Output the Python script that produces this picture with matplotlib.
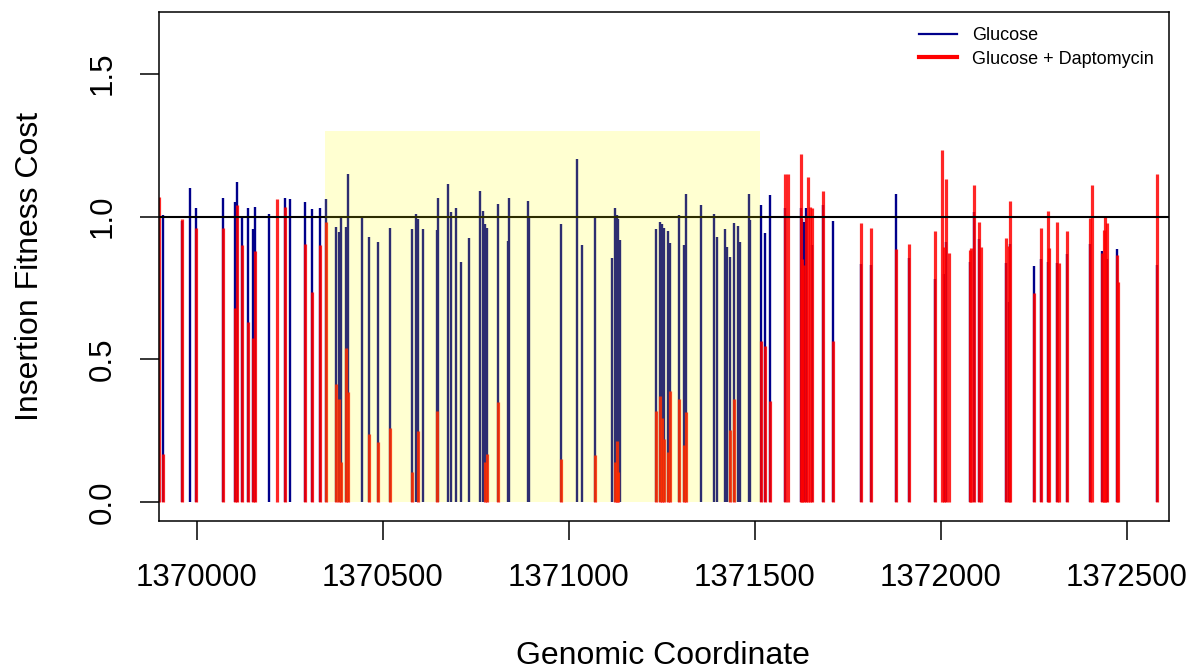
import matplotlib
matplotlib.use('Agg')
import matplotlib.pyplot as plt
from matplotlib.lines import Line2D
from matplotlib.patches import Rectangle
import numpy as np

plt.rcParams['font.family'] = ['Liberation Sans', 'DejaVu Sans']

# insertion sites (genomic coordinate) and fitness cost in each condition
# nan = no value for that condition at the site
nan = np.nan
position = [1369900, 1369910, 1369960, 1369982, 1369998, 1370072, 1370103, 1370108,
            1370121, 1370137, 1370151, 1370156, 1370194, 1370215, 1370237, 1370251,
            1370292, 1370310, 1370333, 1370348, 1370376, 1370383, 1370387, 1370403,
            1370406, 1370446, 1370464, 1370487, 1370520, 1370580, 1370590, 1370594,
            1370608, 1370645, 1370649, 1370676, 1370683, 1370697, 1370712, 1370732,
            1370762, 1370769, 1370775, 1370780, 1370809, 1370838, 1370841, 1370891,
            1370894, 1370979, 1371022, 1371036, 1371071, 1371116, 1371125, 1371129,
            1371133, 1371139, 1371234, 1371245, 1371252, 1371256, 1371267, 1371272,
            1371297, 1371311, 1371315, 1371356, 1371392, 1371398, 1371421, 1371426,
            1371434, 1371444, 1371456, 1371460, 1371485, 1371489, 1371517, 1371528,
            1371541, 1371582, 1371589, 1371624, 1371628, 1371632, 1371638, 1371644,
            1371649, 1371655, 1371684, 1371711, 1371786, 1371814, 1371879, 1371915,
            1371985, 1372003, 1372010, 1372015, 1372022, 1372079, 1372081, 1372090,
            1372103, 1372108, 1372175, 1372183, 1372187, 1372251, 1372270, 1372288,
            1372292, 1372314, 1372318, 1372339, 1372401, 1372407, 1372433, 1372440,
            1372443, 1372446, 1372474, 1372477, 1372582]

glucose = [nan, 1.005, 0.985, 1.10, 1.03, 1.065, 1.05, 1.12,
           0.995, 1.03, 0.955, 1.035, 1.01, nan, 1.065, 1.06,
           1.05, 1.025, 1.03, 1.06, 0.965, 0.947, 1.0, 0.965,
           1.15, 1.0, 0.93, 0.91, 0.96, 0.955, 1.01, 0.99,
           0.955, 0.953, 1.065, 1.115, 1.015, 1.03, 0.84, 0.925,
           1.09, 1.02, 0.975, 0.96, 1.045, 0.915, 1.065, 1.055,
           1.0, 0.975, 1.2, 0.90, 1.0, 0.855, 1.03, 1.005,
           0.993, 0.918, 0.955, 0.98, 0.975, 0.96, 0.948, 0.906,
           1.005, 0.90, 1.08, 1.04, 1.01, 0.927, 0.955, 0.895,
           0.857, 0.976, 0.967, 0.91, 1.078, 0.988, 1.039, 0.943,
           1.075, 1.03, nan, 1.03, 0.99, 0.982, 1.03, nan,
           nan, 0.90, 1.04, 0.985, 0.834, 0.83, 1.08, 0.854,
           0.78, nan, 0.80, 0.912, nan, 0.842, nan, 1.017,
           0.921, nan, 0.837, 0.70, 0.905, 0.828, 0.85, 0.84,
           nan, 0.838, nan, 0.87, 0.905, nan, 0.879, nan,
           nan, 0.85, 0.886, nan, 0.83]

daptomycin = [1.07, 0.17, 0.99, nan, 0.96, 0.96, 0.68, 1.04,
              0.90, 0.63, 0.575, 0.88, nan, 1.06, 1.035, 0.0,
              0.905, 0.735, 0.90, 0.98, 0.415, 0.36, 0.14, 0.54,
              0.385, 0.0, 0.24, 0.21, 0.26, 0.105, 0.0, 0.25,
              0.0, 0.32, 0.0, 0.0, 0.0, nan, nan, 0.0,
              0.0, 0.0, 0.14, 0.17, 0.35, 0.0, 0.0, 0.0,
              0.0, 0.15, 0.0, 0.0, 0.165, 0.0, 0.14, 0.215,
              0.105, 0.0, 0.32, 0.37, 0.295, 0.22, 0.177, 0.39,
              0.36, 0.20, 0.315, 0.0, 0.0, nan, 0.0, 0.0,
              0.253, 0.36, 0.0, 0.0, 0.0, 0.0, 0.564, 0.547,
              0.355, 1.15, 1.15, 1.22, 0.85, 0.83, 1.0, 1.14,
              1.035, 1.03, 1.09, 0.564, 0.976, 0.959, 0.886, 0.904,
              0.949, 1.233, 0.892, 1.131, 0.871, 0.883, 0.889, 1.11,
              0.98, 0.894, 0.924, 0.897, 1.055, 0.731, 0.959, 1.019,
              0.889, 0.98, 0.838, 0.949, 0.996, 1.11, 0.871, 0.953,
              0.997, 0.976, 0.865, 0.772, 1.149]

region_start = 1370345
region_end = 1371514
region_top = 1.3

pos = np.array(position, dtype=float)
glu = np.array(glucose, dtype=float)
dap = np.array(daptomycin, dtype=float)

fig = plt.figure(figsize=(11.95, 6.71), dpi=100)
ax = fig.add_axes([159 / 1195, 1 - 521 / 671, 1010 / 1195, 509 / 671])

m = ~np.isnan(glu) & (glu > 0)
ax.vlines(pos[m], 0, glu[m], colors='#00008B', linewidth=1.7, zorder=2)
m = ~np.isnan(dap) & (dap > 0)
ax.vlines(pos[m], 0, dap[m], colors='red', linewidth=2.3, alpha=0.85, zorder=2.5)

ax.axhline(1.0, color='black', linewidth=1.5, zorder=3)
ax.add_patch(Rectangle((region_start, 0), region_end - region_start, region_top,
                       facecolor='yellow', alpha=0.18, edgecolor='none', zorder=4))

ax.set_xlim(1369899, 1372614)
ax.set_ylim(-0.066, 1.716)
ax.set_xticks([1370000, 1370500, 1371000, 1371500, 1372000, 1372500])
ax.set_xticklabels(['1370000', '1370500', '1371000', '1371500', '1372000', '1372500'])
ax.set_yticks([0.0, 0.5, 1.0, 1.5])
ax.set_yticklabels(['0.0', '0.5', '1.0', '1.5'], rotation=90, va='center')
ax.tick_params(axis='both', length=13.5, width=1.1, labelsize=22.5, direction='out')
ax.tick_params(axis='x', pad=17)
ax.tick_params(axis='y', pad=16)
for s in ax.spines.values():
    s.set_linewidth(1.1)

fig.text(663 / 1195, 1 - 656 / 671, 'Genomic Coordinate', ha='center', va='center', fontsize=23)
fig.text(30 / 1195, 1 - 266 / 671, 'Insertion Fitness Cost', ha='center', va='center',
         fontsize=23, rotation=90)

handles = [Line2D([], [], color='#00008B', linewidth=1.6),
           Line2D([], [], color='red', linewidth=3)]
ax.legend(handles, ['Glucose', 'Glucose + Daptomycin'], loc='upper right',
          frameon=False, fontsize=13, handlelength=2.1, handletextpad=0.85,
          labelspacing=0.35, borderaxespad=0.45)

fig.savefig('out.png', dpi=100)
